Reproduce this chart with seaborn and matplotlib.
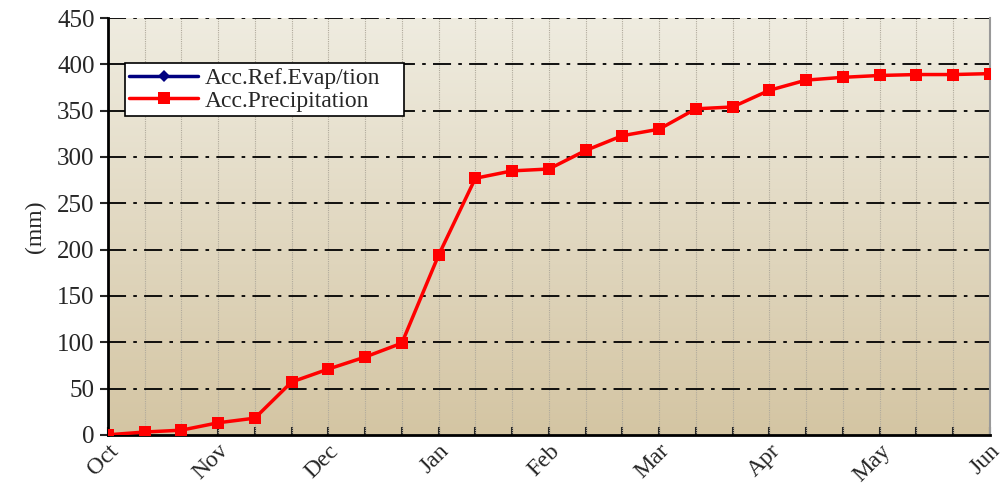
import numpy as np
import pandas as pd
import seaborn as sns
import matplotlib.pyplot as plt

# data: 3 readings per month, Oct -> Jun
months = ['Oct', 'Nov', 'Dec', 'Jan', 'Feb', 'Mar', 'Apr', 'May', 'Jun']
acc_precip = [0, 3, 5, 13, 18, 57, 71, 84, 99, 194, 277, 285, 287, 307, 323,
              330, 352, 354, 372, 383, 386, 388, 389, 389, 390]
acc_evap = [0]

sns.set_style('white')
plt.rcParams['font.family'] = ['Liberation Serif', 'DejaVu Serif']

step = np.arange(len(acc_precip))
df = pd.DataFrame({'step': step, 'Acc.Precipitation': acc_precip})
df_evap = pd.DataFrame({'step': step[:len(acc_evap)], 'Acc.Ref.Evap/tion': acc_evap})

fig, ax = plt.subplots(figsize=(10.08, 4.88), dpi=100)
fig.subplots_adjust(left=0.107, right=0.982, top=0.963, bottom=0.109)

# gradient background
grad = np.linspace(0, 1, 256).reshape(-1, 1)
top_c = np.array([239, 236, 224]) / 255
bot_c = np.array([212, 197, 163]) / 255
img = top_c * (1 - grad[..., None]) + bot_c * grad[..., None]
img = np.repeat(img, 2, axis=1)
ax.imshow(img, extent=[0, 1, 0, 1], transform=ax.transAxes, aspect='auto', zorder=0)

sns.lineplot(data=df_evap, x='step', y='Acc.Ref.Evap/tion', ax=ax, color='#000080',
             marker='D', markersize=6, linewidth=2.5, markeredgewidth=0,
             label='Acc.Ref.Evap/tion', zorder=3)
sns.lineplot(data=df, x='step', y='Acc.Precipitation', ax=ax, color='#ff0000',
             marker='s', markersize=8, linewidth=2.5, markeredgewidth=0,
             label='Acc.Precipitation', zorder=4)

ax.set_xlim(0, len(acc_precip) - 1)
ax.set_ylim(0, 450)
ax.set_yticks(range(0, 451, 50))
ax.set_xticks(step, minor=True)
ax.set_xticks(step[::3])
ax.set_xticklabels(months, rotation=45, ha='right', rotation_mode='anchor')
ax.set_xlabel('')
ax.set_ylabel('(mm)', fontsize=17, labelpad=8)

ax.tick_params(axis='y', direction='out', length=6, width=1.5, labelsize=18, left=True)
ax.tick_params(axis='x', which='both', direction='in', length=6, width=1.5, bottom=True,
               labelsize=17, pad=4)

# grids
for y in range(50, 451, 50):
    ax.axhline(y, color='black', linestyle=(0, (10, 4, 2, 4)), linewidth=1.3, zorder=2)
for x in step[1:-1]:
    ax.axvline(x, color='#b0aa9c', linestyle=(0, (1, 1)), linewidth=0.8, zorder=1)

for s in ['left', 'bottom']:
    ax.spines[s].set_color('black')
    ax.spines[s].set_linewidth(2)
ax.spines['right'].set_color('#999999')
ax.spines['right'].set_linewidth(1.5)
ax.spines['top'].set_visible(False)

leg = ax.legend(loc='upper left', bbox_to_anchor=(0.019, 0.5, 0.317, 0.393),
                mode='expand', fancybox=False, framealpha=1, edgecolor='black',
                fontsize=17, borderpad=0.2, labelspacing=0.05, handlelength=2.9,
                handletextpad=0.3, borderaxespad=0)
leg.get_frame().set_linewidth(1.2)
leg.set_zorder(10)

fig.savefig('out.png', dpi=100)
